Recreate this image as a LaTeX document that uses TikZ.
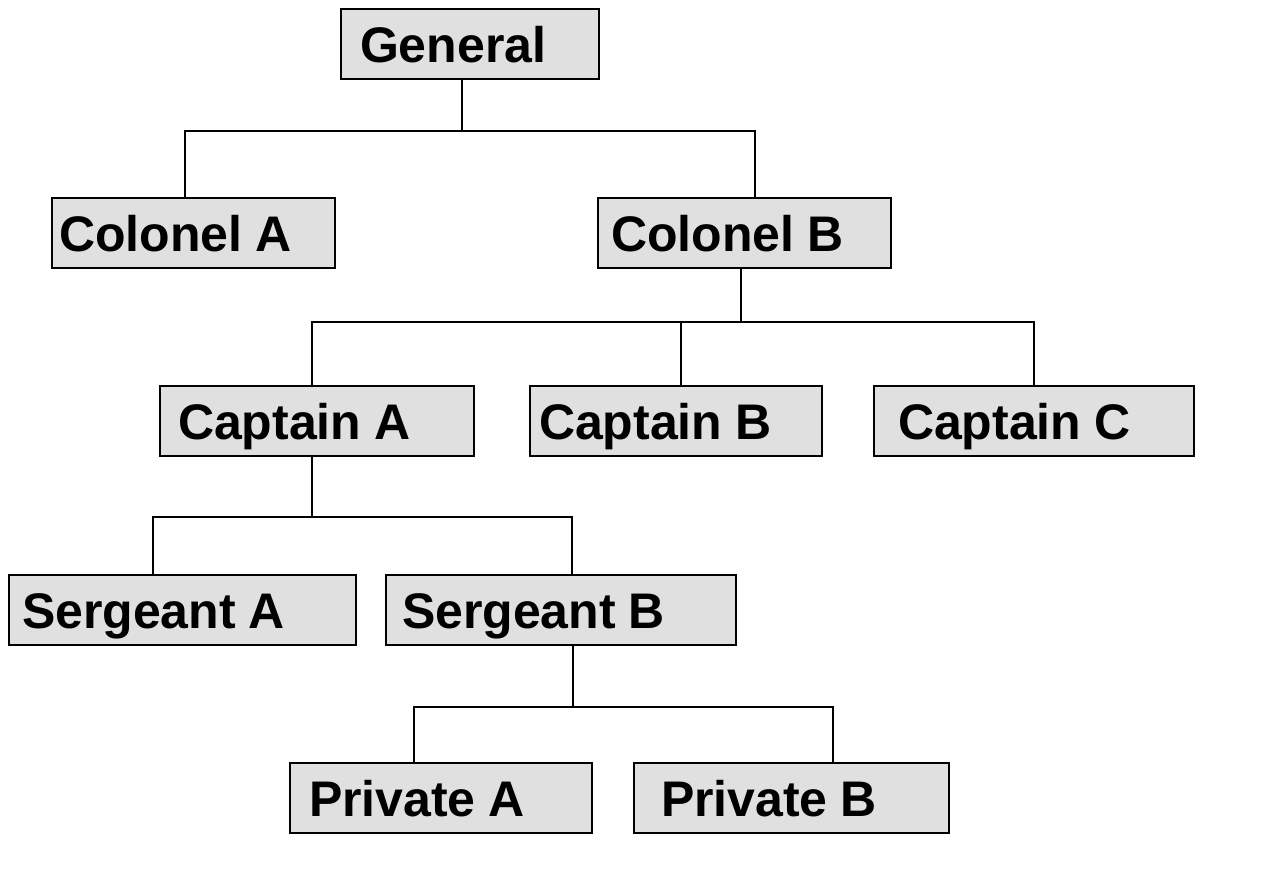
\documentclass[tikz,border=0pt]{standalone}
\usepackage{fontspec}
\setmainfont{Liberation Sans}
\definecolor{boxfill}{HTML}{E0E0E0}
\newcommand{\rankfont}{\fontsize{50pt}{55pt}\selectfont\bfseries\spaceskip=13pt\relax}
\tikzset{
  rank/.style n args={2}{draw=black, line width=2pt, fill=boxfill, anchor=north west,
    inner ysep=0pt, inner xsep=#2, text width={#1-2*#2}, align=left,
    minimum height=70pt, text height=37pt, text depth=0pt},
  link/.style={line width=2pt}
}
\begin{document}
\begin{tikzpicture}[x=1pt,y=-1pt]
\useasboundingbox (0,0) rectangle (1280,895);
\node[rank={258pt}{19pt}] (gen) at (340,8) {\rankfont General};
\node[rank={283pt}{7pt}] (cola) at (51,197) {\rankfont Colonel A};
\node[rank={293pt}{13pt}] (colb) at (597,197) {\rankfont Colonel B};
\node[rank={314pt}{18pt}] (capa) at (159,385) {\rankfont Captain A};
\node[rank={292pt}{9pt}] (capb) at (529,385) {\rankfont Captain B};
\node[rank={320pt}{24pt}] (capc) at (873,385) {\rankfont Captain C};
\node[rank={347pt}{13pt}] (sera) at (8,574) {\rankfont Sergeant A};
\node[rank={350pt}{16pt}] (serb) at (385,574) {\rankfont Sergeant B};
\node[rank={302pt}{19pt}] (priva) at (289,762) {\rankfont Private A};
\node[rank={315pt}{27pt}] (privb) at (633,762) {\rankfont Private B};
% level 1
\coordinate (j1) at (462,131);
\coordinate (h1a) at (185,131);
\coordinate (h1b) at (755,131);
\draw[link] (j1 |- gen.south) -- (j1);
\draw[link] (h1a |- cola.north) -- (h1a) -- (h1b) -- (h1b |- colb.north);
% level 2
\coordinate (j2) at (741,322);
\coordinate (h2a) at (312,322);
\coordinate (h2b) at (681,322);
\coordinate (h2c) at (1034,322);
\draw[link] (j2 |- colb.south) -- (j2);
\draw[link] (h2a |- capa.north) -- (h2a) -- (h2c) -- (h2c |- capc.north);
\draw[link] (h2b) -- (h2b |- capb.north);
% level 3
\coordinate (j3) at (312,517);
\coordinate (h3a) at (153,517);
\coordinate (h3b) at (572,517);
\draw[link] (j3 |- capa.south) -- (j3);
\draw[link] (h3a |- sera.north) -- (h3a) -- (h3b) -- (h3b |- serb.north);
% level 4
\coordinate (j4) at (573,707);
\coordinate (h4a) at (414,707);
\coordinate (h4b) at (833,707);
\draw[link] (j4 |- serb.south) -- (j4);
\draw[link] (h4a |- priva.north) -- (h4a) -- (h4b) -- (h4b |- privb.north);
\end{tikzpicture}
\end{document}
